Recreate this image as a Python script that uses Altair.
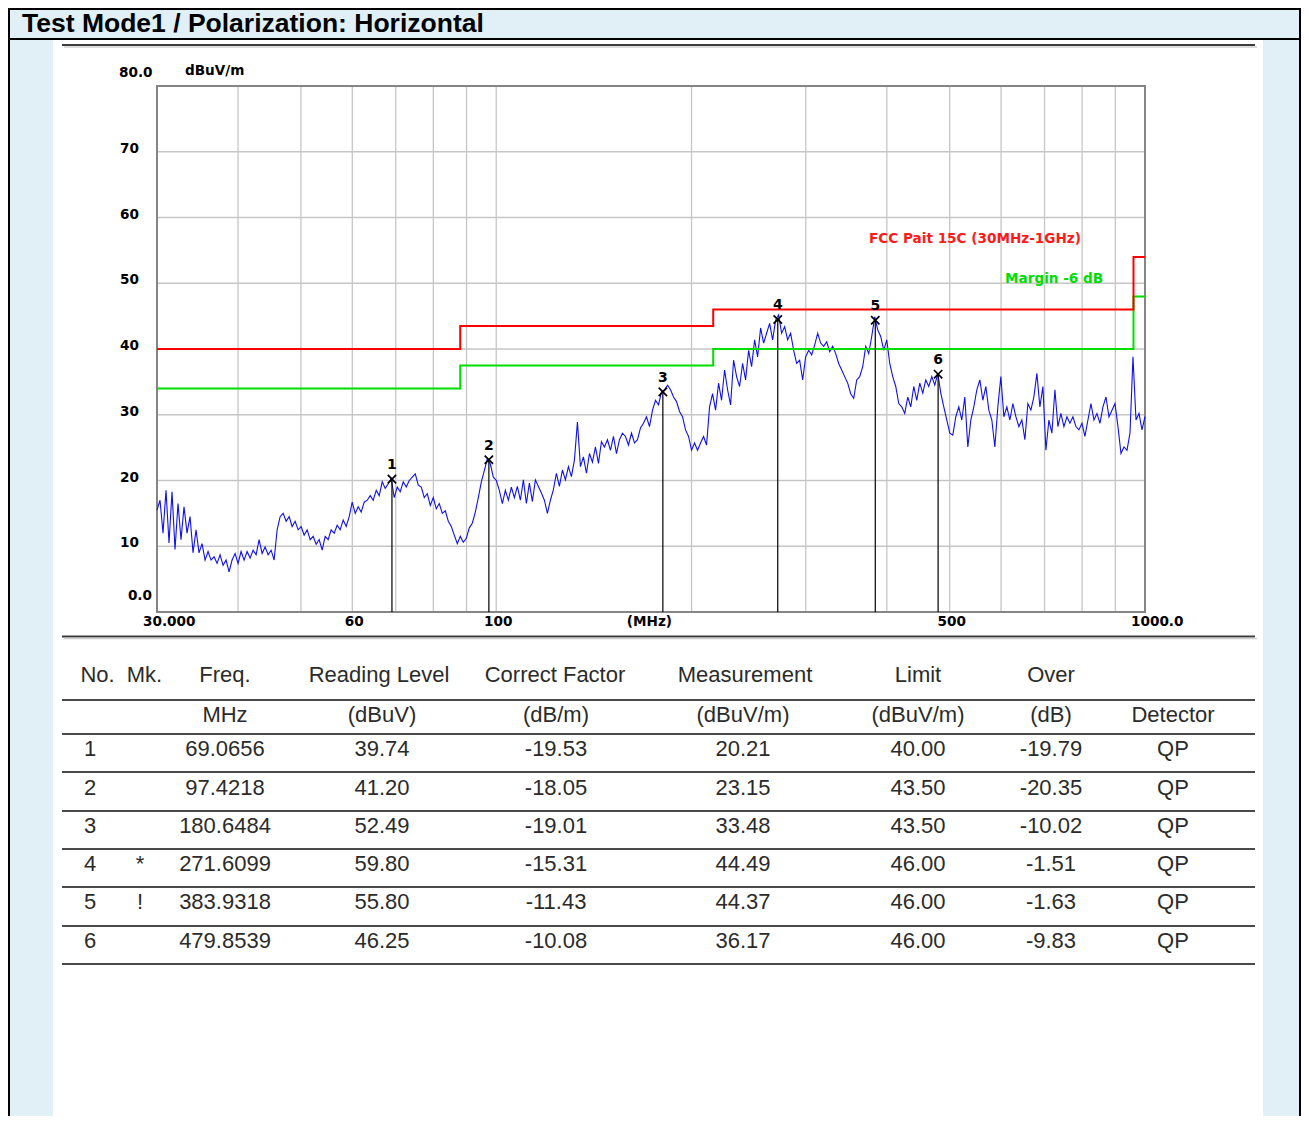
import altair as alt
import pandas as pd
import numpy as np

W, H = 1293, 1108
BG = "#e1f0f7"

# ---------------- data ----------------
title_text = "Test Mode1 / Polarization: Horizontal"

trace_level = [
    15.5, 17.0, 12.0, 18.5, 10.5, 18.3, 9.5, 16.5, 11.0, 16.0,
    12.0, 14.5, 9.0, 12.5, 9.0, 10.4, 7.9, 9.2, 7.9, 8.4,
    7.4, 8.7, 7.1, 7.9, 6.1, 7.9, 8.9, 7.4, 9.2, 7.9,
    9.2, 8.2, 9.4, 8.7, 11.0, 8.9, 9.9, 8.7, 9.4, 7.9,
    12.5, 14.5, 15.0, 13.8, 14.5, 13.0, 13.8, 12.5, 13.0, 11.7,
    12.5, 11.0, 11.5, 10.3, 11.0, 9.4, 11.5, 11.0, 12.5, 12.0,
    13.2, 12.5, 14.0, 13.0, 14.5, 16.7, 15.0, 16.0, 15.2, 16.7,
    17.0, 17.7, 17.0, 18.5, 17.7, 19.8, 18.8, 19.5, 20.3, 17.4,
    19.0, 18.3, 19.8, 19.0, 20.0, 20.5, 21.0, 19.3, 19.0, 17.4,
    18.0, 16.2, 17.4, 15.7, 16.5, 15.0, 15.4, 13.8, 13.0, 11.7,
    10.4, 11.5, 10.6, 11.2, 12.8, 13.5, 15.2, 17.4, 19.8, 21.5,
    23.3, 22.5, 20.5, 20.0, 18.5, 16.5, 18.5, 17.0, 19.0, 17.4,
    19.1, 17.0, 20.1, 16.5, 19.6, 16.8, 20.1, 19.1, 18.1, 17.0,
    15.0, 17.0, 18.6, 21.1, 19.1, 21.6, 20.1, 22.1, 20.6, 23.1,
    28.9, 22.1, 23.6, 21.1, 24.1, 22.8, 25.1, 22.6, 25.9, 25.1,
    26.2, 24.6, 26.7, 24.1, 26.2, 27.2, 26.7, 25.4, 27.2, 25.7,
    26.2, 28.0, 28.7, 29.7, 28.2, 30.7, 32.2, 31.5, 33.5, 33.8,
    34.5, 33.8, 32.7, 32.0, 30.5, 29.7, 27.7, 26.7, 24.6, 25.7,
    24.6, 25.7, 26.7, 25.4, 31.2, 33.2, 30.7, 34.8, 32.2, 36.8,
    33.8, 31.5, 38.3, 35.8, 34.3, 37.8, 35.3, 39.8, 37.3, 41.4,
    38.8, 43.2, 40.9, 42.4, 43.9, 41.4, 44.4, 45.2, 42.4, 43.4,
    41.4, 42.4, 39.8, 37.8, 38.3, 35.3, 38.8, 39.8, 39.1, 40.6,
    42.4, 40.9, 40.4, 41.1, 39.6, 40.4, 39.3, 37.8, 36.8, 35.8,
    34.8, 33.2, 32.5, 35.3, 35.8, 37.3, 40.4, 39.3, 41.9, 44.9,
    42.9, 41.9, 39.8, 41.4, 37.8, 35.8, 34.3, 31.7, 31.2, 30.2,
    32.7, 31.2, 34.3, 32.2, 34.8, 33.3, 35.3, 34.3, 35.8, 34.5,
    36.3, 33.3, 31.2, 29.2, 27.2, 26.9, 29.7, 31.2, 29.2, 32.7,
    25.1, 29.2, 31.2, 33.8, 35.3, 32.2, 34.3, 30.7, 29.2, 25.1,
    31.2, 35.8, 29.7, 31.2, 29.2, 31.7, 29.7, 28.2, 29.2, 26.2,
    31.7, 30.7, 32.7, 36.3, 31.2, 34.3, 24.6, 29.2, 27.2, 33.8,
    28.2, 30.2, 28.2, 29.7, 28.7, 29.7, 28.2, 27.7, 28.7, 26.7,
    29.2, 31.7, 29.2, 30.2, 28.7, 31.2, 32.7, 29.7, 30.7, 31.7,
    28.2, 24.1, 25.1, 24.6, 27.2, 38.8, 29.2, 30.2, 27.7, 29.7,
]
# receiver sweep grid (log spaced, 30 MHz .. 1 GHz)
trace_freq = np.geomspace(30, 1000, len(trace_level))

limit_freq = [30, 88, 216, 960, 1000]
limit_level = [40, 43.5, 46, 54, 54]
margin_level = [34, 37.5, 40, 48, 48]
limit_label = "FCC Pait 15C (30MHz-1GHz)"
margin_label = "Margin -6 dB"
unit_label = "dBuV/m"

mk_no = ["1", "2", "3", "4", "5", "6"]
mk_mark = ["", "", "", "*", "!", ""]
mk_freq = [69.0656, 97.4218, 180.6484, 271.6099, 383.9318, 479.8539]
mk_reading = [39.74, 41.20, 52.49, 59.80, 55.80, 46.25]
mk_factor = [-19.53, -18.05, -19.01, -15.31, -11.43, -10.08]
mk_meas = [20.21, 23.15, 33.48, 44.49, 44.37, 36.17]
mk_limit = [40.00, 43.50, 43.50, 46.00, 46.00, 46.00]
mk_over = [-19.79, -20.35, -10.02, -1.51, -1.63, -9.83]
mk_det = ["QP", "QP", "QP", "QP", "QP", "QP"]

x_grid = [40, 50, 60, 70, 80, 90, 100, 200, 300, 400, 500, 600, 700, 800, 900]
y_grid = [10, 20, 30, 40, 50, 60, 70]
y_tick_vals = [80, 70, 60, 50, 40, 30, 20, 10, 0]
y_tick_text = ["80.0", "70", "60", "50", "40", "30", "20", "10", "0.0"]
x_tick_vals = [30, 60, 100, 171, 500, 1000]
x_tick_text = ["30.000", "60", "100", "(MHz)", "500", "1000.0"]

head1 = ["No.", "Mk.", "Freq.", "Reading Level", "Correct Factor", "Measurement", "Limit", "Over"]
head2 = ["", "", "MHz", "(dBuV)", "(dB/m)", "(dBuV/m)", "(dBuV/m)", "(dB)", "Detector"]

# ---------------- layout (pixels, canvas coords) ----------------
head1_x = [89.5, 136.5, 217, 371, 547, 737, 910, 1043]
col_x = [82, 132, 217, 374, 548, 735, 910, 1043, 1165]
head1_y = 667
head2_y = 707
row_y = [741, 780, 818, 856, 894, 933]
line_y = [692, 726, 764, 803, 841, 879, 918, 956]

XS = alt.Scale(type="log", domain=[30, 1000], range=[149, 1137], nice=False)
YS = alt.Scale(type="linear", domain=[0, 80], range=[604, 78], nice=False, zero=False)
PXS = alt.Scale(domain=[0, W], range=[0, W], nice=False, zero=False)
PYS = alt.Scale(domain=[0, H], range=[0, H], nice=False, zero=False)

CFONT = "DejaVu Sans"
CSIZE = 13.6
TFONT = "Liberation Sans"
one = pd.DataFrame({"k": [0]})

layers = []

# page decoration
layers.append(alt.Chart(one).mark_rect(color="white").encode(
    x=alt.value(45), x2=alt.value(1255), y=alt.value(32), y2=alt.value(H)))
layers.append(alt.Chart(one).mark_rect(fill=None, stroke="black", strokeWidth=2).encode(
    x=alt.value(1), x2=alt.value(W - 1), y=alt.value(1), y2=alt.value(H + 20)))
layers.append(alt.Chart(one).mark_rule(color="black", strokeWidth=2).encode(
    x=alt.value(0), x2=alt.value(W), y=alt.value(31)))
layers.append(alt.Chart(one).mark_text(
    text=title_text, font=TFONT, fontSize=26.5, fontWeight="bold", align="left",
    baseline="alphabetic", color="black").encode(x=alt.value(14), y=alt.value(24)))
for yy in [37, 628.5]:
    layers.append(alt.Chart(one).mark_rule(color="#3c3c3c", strokeWidth=2).encode(
        x=alt.value(54), x2=alt.value(1247), y=alt.value(yy)))
    layers.append(alt.Chart(one).mark_rule(color="#d0d0d0", strokeWidth=1.5).encode(
        x=alt.value(56), x2=alt.value(1249), y=alt.value(yy + 2)))

# grid
gx = pd.DataFrame({"f": x_grid, "lo": 0, "hi": 80})
layers.append(alt.Chart(gx).mark_rule(color="#c6c6c6", strokeWidth=1.3).encode(
    x=alt.X("f:Q", scale=XS, axis=None), y=alt.Y("lo:Q", scale=YS, axis=None), y2="hi:Q"))
gy = pd.DataFrame({"v": y_grid, "lo": 30, "hi": 1000})
layers.append(alt.Chart(gy).mark_rule(color="#c6c6c6", strokeWidth=1.3).encode(
    y=alt.Y("v:Q", scale=YS, axis=None), x=alt.X("lo:Q", scale=XS, axis=None), x2="hi:Q"))
frame = pd.DataFrame({"x0": [30], "x1": [1000], "y0": [0], "y1": [80]})
layers.append(alt.Chart(frame).mark_rect(fill=None, stroke="#858585", strokeWidth=2).encode(
    x=alt.X("x0:Q", scale=XS, axis=None), x2="x1:Q",
    y=alt.Y("y0:Q", scale=YS, axis=None), y2="y1:Q"))

# trace
tr = pd.DataFrame({"f": trace_freq, "v": trace_level})
layers.append(alt.Chart(tr).mark_line(color="#1010ee", strokeWidth=1.1).encode(
    x=alt.X("f:Q", scale=XS, axis=None), y=alt.Y("v:Q", scale=YS, axis=None)))

# limit & margin
lim = pd.DataFrame({"f": limit_freq, "lim": limit_level, "mar": margin_level})
layers.append(alt.Chart(lim).mark_line(color="#00dd00", strokeWidth=2, interpolate="step-after").encode(
    x=alt.X("f:Q", scale=XS, axis=None), y=alt.Y("mar:Q", scale=YS, axis=None)))
layers.append(alt.Chart(lim).mark_line(color="#ff0000", strokeWidth=2, interpolate="step-after").encode(
    x=alt.X("f:Q", scale=XS, axis=None), y=alt.Y("lim:Q", scale=YS, axis=None)))

# markers
mk = pd.DataFrame({"no": mk_no, "f": mk_freq, "v": mk_meas, "base": 0})
layers.append(alt.Chart(mk).mark_rule(color="black", strokeWidth=1.2).encode(
    x=alt.X("f:Q", scale=XS, axis=None), y=alt.Y("v:Q", scale=YS, axis=None), y2="base:Q"))
layers.append(alt.Chart(mk).mark_point(shape="M-1,-1L1,1M-1,1L1,-1", size=70, filled=False,
                                       color="black", strokeWidth=1.7, opacity=1).encode(
    x=alt.X("f:Q", scale=XS, axis=None), y=alt.Y("v:Q", scale=YS, axis=None)))
layers.append(alt.Chart(mk).mark_text(font=CFONT, fontSize=14, fontWeight="bold", dy=-14,
                                      color="black").encode(
    x=alt.X("f:Q", scale=XS, axis=None), y=alt.Y("v:Q", scale=YS, axis=None), text="no:N"))

# axis labels
yl = pd.DataFrame({"v": y_tick_vals, "t": y_tick_text})
layers.append(alt.Chart(yl[yl.v == 80]).mark_text(font=CFONT, fontSize=CSIZE, fontWeight="bold",
                                                   align="left", dy=-13, color="black").encode(
    y=alt.Y("v:Q", scale=YS, axis=None), x=alt.value(111), text="t:N"))
layers.append(alt.Chart(yl[(yl.v > 0) & (yl.v < 80)]).mark_text(font=CFONT, fontSize=CSIZE, fontWeight="bold",
                                                                 align="left", dy=-3, color="black").encode(
    y=alt.Y("v:Q", scale=YS, axis=None), x=alt.value(112), text="t:N"))
layers.append(alt.Chart(yl[yl.v == 0]).mark_text(font=CFONT, fontSize=CSIZE, fontWeight="bold",
                                                  align="right", dy=-16, color="black").encode(
    y=alt.Y("v:Q", scale=YS, axis=None), x=alt.value(144), text="t:N"))
layers.append(alt.Chart(one).mark_text(text=unit_label, font=CFONT, fontSize=CSIZE, fontWeight="bold",
                                       align="left", color="black").encode(
    x=alt.value(177), y=alt.value(63)))

xl = pd.DataFrame({"f": x_tick_vals, "t": x_tick_text, "lo": 0})
edge = xl[xl.f.isin([30, 1000])]
mid = xl[~xl.f.isin([30, 1000])]
layers.append(alt.Chart(edge).mark_text(font=CFONT, fontSize=CSIZE, fontWeight="bold", align="left",
                                        dx=-14, dy=10, color="black").encode(
    x=alt.X("f:Q", scale=XS, axis=None), y=alt.Y("lo:Q", scale=YS, axis=None), text="t:N"))
layers.append(alt.Chart(mid).mark_text(font=CFONT, fontSize=CSIZE, fontWeight="bold", align="center",
                                       dx=2, dy=10, color="black").encode(
    x=alt.X("f:Q", scale=XS, axis=None), y=alt.Y("lo:Q", scale=YS, axis=None), text="t:N"))

layers.append(alt.Chart(one).mark_text(text=limit_label, font=CFONT, fontSize=CSIZE, fontWeight="bold",
                                       align="left", color="#ff1a1a").encode(
    x=alt.value(861), y=alt.value(231)))
layers.append(alt.Chart(one).mark_text(text=margin_label, font=CFONT, fontSize=CSIZE, fontWeight="bold",
                                       align="left", color="#00dd00").encode(
    x=alt.value(997), y=alt.value(271)))

# table
rows = []
for t, x in zip(head1, head1_x):
    rows.append({"px": x, "py": head1_y, "t": t})
for t, x in zip(head2, col_x):
    if t:
        rows.append({"px": x, "py": head2_y, "t": t})
for i in range(len(mk_no)):
    vals = [mk_no[i], mk_mark[i], f"{mk_freq[i]:.4f}", f"{mk_reading[i]:.2f}", f"{mk_factor[i]:.2f}",
            f"{mk_meas[i]:.2f}", f"{mk_limit[i]:.2f}", f"{mk_over[i]:.2f}", mk_det[i]]
    for t, x in zip(vals, col_x):
        if t:
            rows.append({"px": x, "py": row_y[i], "t": t})
tbl = pd.DataFrame(rows)
layers.append(alt.Chart(tbl).mark_text(font=TFONT, fontSize=22, color="#2b2b2b", align="center",
                                       baseline="middle").encode(
    x=alt.X("px:Q", scale=PXS, axis=None), y=alt.Y("py:Q", scale=PYS, axis=None), text="t:N"))
tl = pd.DataFrame({"ly": line_y})
layers.append(alt.Chart(tl).mark_rule(color="#4a4a4a", strokeWidth=1.8).encode(
    y=alt.Y("ly:Q", scale=PYS, axis=None), x=alt.value(54), x2=alt.value(1247)))

chart = alt.layer(*layers).resolve_scale(x="independent", y="independent").properties(
    width=W, height=H, autosize=alt.AutoSizeParams(type="none"), padding=0, background=BG
).configure_view(strokeWidth=0)

chart.save("out.html", embed_options={"renderer": "svg", "actions": False})
